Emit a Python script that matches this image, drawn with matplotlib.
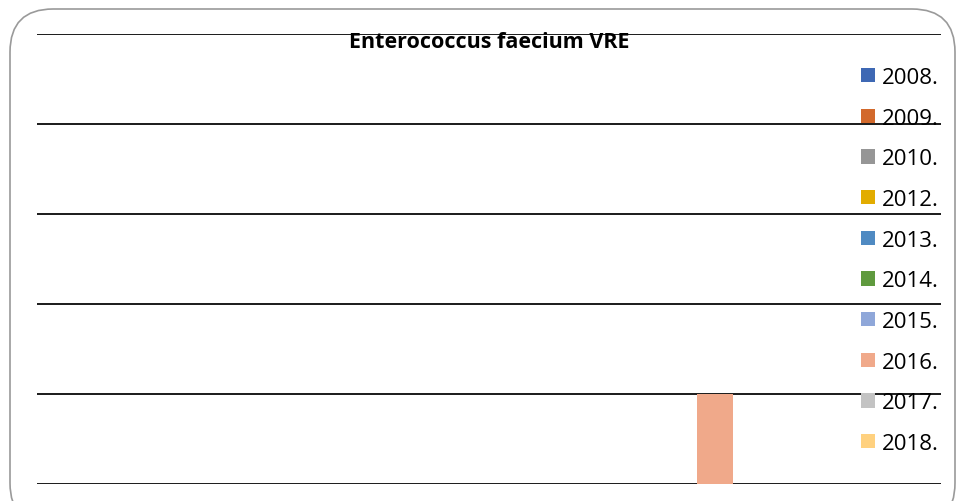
import numpy as np
import matplotlib.pyplot as plt
from matplotlib.patches import FancyBboxPatch, Patch

plt.rcParams['font.family'] = ['Open Sans', 'DejaVu Sans']

# data
years = ['2008.', '2009.', '2010.', '2012.', '2013.', '2014.', '2015.', '2016.', '2017.', '2018.']
values = [0, 0, 0, 0, 0, 0, 0, 1, 0, 0]
colors = ['#3E68B4', '#D2692C', '#969696', '#E2AC00', '#4F8AC2', '#5F9A3E',
          '#8FA7D9', '#F0A98A', '#C3C3C3', '#FFD17F']

fig = plt.figure(figsize=(9.58, 5.02), dpi=100)

# rounded chart frame
frame = FancyBboxPatch((10 / 958, -0.05), 945 / 958, 1 - 10 / 502 + 0.05,
                       boxstyle="round,pad=0,rounding_size=0.045",
                       transform=fig.transFigure, fill=False,
                       edgecolor='#9A9A9A', linewidth=1.2, mutation_aspect=958 / 502)
fig.patches.append(frame)

ax = fig.add_axes([37 / 958, 1 - 485 / 502, (941 - 37) / 958, (485 - 35) / 502])

w = 0.0398
center = 0.65
for i, (v, c) in enumerate(zip(values, colors)):
    ax.bar(center + (i - 4.5) * w, v, width=w, color=c, zorder=2)

ax.set_xlim(0, 1)
ax.set_ylim(0, 5)
ax.set_yticks(np.arange(0, 6))
ax.grid(axis='y', color='#1a1a1a', linewidth=1.4, zorder=1)
ax.set_axisbelow(True)
ax.tick_params(left=False, bottom=False, labelleft=False, labelbottom=False)
for s in ax.spines.values():
    s.set_visible(False)
ax.patch.set_alpha(0)

fig.text(489 / 958, 1 - 43 / 502, 'Enterococcus faecium VRE', ha='center', va='center',
         fontsize=15.5, fontweight='bold')

handles = [Patch(facecolor=c, edgecolor='none') for c in colors]
fig.legend(handles, years, loc='upper left', bbox_to_anchor=(861 / 958, 1 - 68 / 502),
           frameon=False, fontsize=16, handlelength=0.63, handleheight=0.63,
           handletextpad=0.32, labelspacing=0.885, borderpad=0, borderaxespad=0)

fig.savefig('out.png', dpi=100)
